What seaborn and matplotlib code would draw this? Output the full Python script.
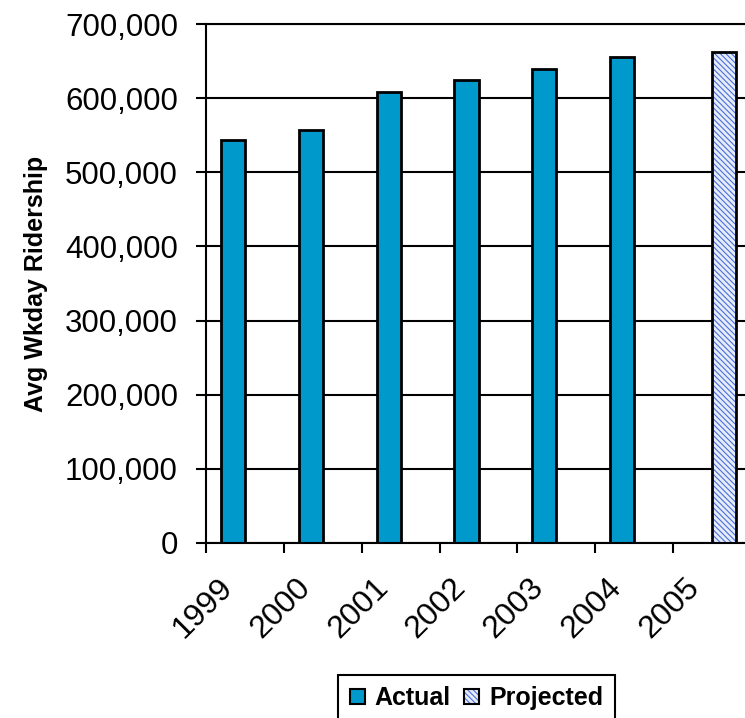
import matplotlib
matplotlib.use("Agg")
import matplotlib.pyplot as plt
from matplotlib.patches import Patch
from matplotlib.transforms import ScaledTranslation
from matplotlib.colors import to_rgba
from matplotlib.ticker import FuncFormatter
import seaborn as sns
import pandas as pd

plt.rcParams['font.family'] = ['Liberation Sans', 'DejaVu Sans']
plt.rcParams['hatch.linewidth'] = 0.8

years = ['1999', '2000', '2001', '2002', '2003', '2004', '2005']
actual_years = ['1999', '2000', '2001', '2002', '2003', '2004']
actual_values = [543000, 557000, 608500, 625000, 639000, 655000]
projected_years = ['2005']
projected_values = [662500]
series = ['Actual', 'Projected']
y_ticks = [0, 100000, 200000, 300000, 400000, 500000, 600000, 700000]

ACTUAL_COLOR = '#0099CC'
PROJ_FACE = '#e6ecfa'
HATCH_COLOR = '#4a70d8'
HATCH = '\\' * 6

df = pd.concat([
    pd.DataFrame({'Year': actual_years, 'Riders': actual_values, 'Type': 'Actual'}),
    pd.DataFrame({'Year': projected_years, 'Riders': projected_values, 'Type': 'Projected'}),
], ignore_index=True)

W, H = 745, 718
fig = plt.figure(figsize=(W / 100, H / 100), dpi=100)
fig.patch.set_facecolor('white')
ax = fig.add_axes([206 / W, (H - 543) / H, 545 / W, 519 / H])

sns.barplot(data=df, x='Year', y='Riders', hue='Type', order=years, hue_order=series,
            palette={'Actual': ACTUAL_COLOR, 'Projected': PROJ_FACE}, saturation=1,
            dodge=True, width=0.62, edgecolor='black', linewidth=2.0, legend=False, ax=ax)


def set_hatch_color(p, color):
    if hasattr(p, 'set_hatchcolor'):
        p.set_hatchcolor(color)
    else:
        p._hatch_color = to_rgba(color)
    p.stale = True


proj_rgba = to_rgba(PROJ_FACE)
for p in ax.patches:
    if all(abs(a - b) < 1e-3 for a, b in zip(p.get_facecolor()[:3], proj_rgba[:3])):
        p.set_hatch(HATCH)
        set_hatch_color(p, HATCH_COLOR)

ax.set_xlim(-0.5, 6.5)
ax.set_ylim(0, 700000)
ax.set_yticks(y_ticks)
ax.yaxis.set_major_formatter(FuncFormatter(lambda v, pos: f'{int(v):,}'))
ax.set_xlabel('')
ax.set_ylabel('Avg Wkday Ridership', fontsize=18, fontweight='bold', va='center')
ax.yaxis.set_label_coords(-0.312, 0.5)

ax.set_axisbelow(True)
ax.yaxis.grid(True, color='black', linewidth=1.5)
ax.xaxis.grid(False)
for side in ['left', 'bottom', 'top']:
    ax.spines[side].set_color('black')
    ax.spines[side].set_linewidth(1.5)
ax.spines['right'].set_visible(False)
ax.set_facecolor('white')

ax.tick_params(axis='y', direction='out', length=7.2, width=1.5, color='black',
               pad=13, labelsize=22.5, labelcolor='black')
ax.set_xticks([i - 0.5 for i in range(len(years) + 1)], minor=True)
ax.tick_params(axis='x', which='minor', direction='out', length=7.2, width=1.5, color='black')
ax.tick_params(axis='x', which='major', length=0, pad=28.8, labelsize=23, labelcolor='black')
ax.set_xticks(range(len(years)))
ax.set_xticklabels(years)
offset = ScaledTranslation(-17 / 100, 0, fig.dpi_scale_trans)
for lbl in ax.get_xticklabels():
    lbl.set_rotation(45)
    lbl.set_ha('right')
    lbl.set_va('center')
    lbl.set_rotation_mode('anchor')
    lbl.set_transform(lbl.get_transform() + offset)

handles = [
    Patch(facecolor=ACTUAL_COLOR, edgecolor='black', linewidth=1.5),
    Patch(facecolor=PROJ_FACE, edgecolor='black', linewidth=1.5, hatch=HATCH),
]
leg = fig.legend(handles, series, loc='upper center',
                 bbox_to_anchor=(476.5 / W, 1 - 675 / H), ncol=2, frameon=True,
                 fancybox=False, shadow=False, edgecolor='black', borderaxespad=0,
                 prop={'family': 'Liberation Sans', 'weight': 'bold', 'size': 18},
                 handlelength=0.6, handleheight=0.6, handletextpad=0.4,
                 columnspacing=0.55, borderpad=0.45)
leg.get_frame().set_linewidth(1.5)
leg.get_frame().set_alpha(1)
for p in leg.get_patches():
    if p.get_hatch():
        set_hatch_color(p, HATCH_COLOR)

fig.savefig('out.png', dpi=100, facecolor='white')
